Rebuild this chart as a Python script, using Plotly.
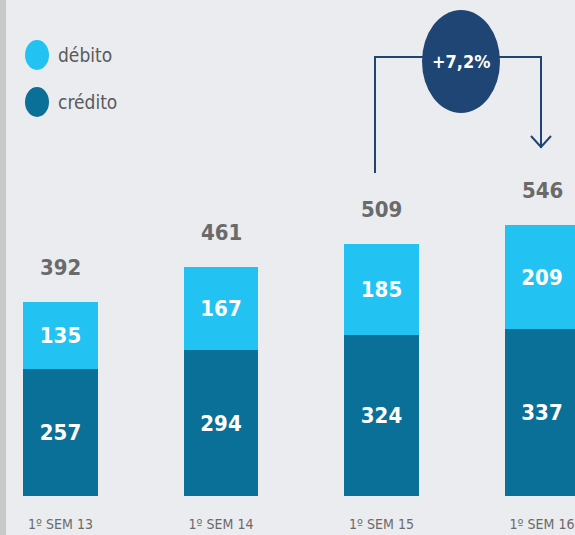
import plotly.graph_objects as go

periodos = ["1º SEM 13", "1º SEM 14", "1º SEM 15", "1º SEM 16"]
credito = [257, 294, 324, 337]
debito = [135, 167, 185, 209]
totais = [c + d for c, d in zip(credito, debito)]
variacao = "+7,2%"

cor_debito = "#22c3f3"
cor_credito = "#0b7098"
cor_seta = "#1e4573"
fundo = "#ebecef"
fonte = "DejaVu Sans Condensed"

W, H = 575, 535
plot_h = 496  # plot area height in px (t=0)


def px(x):
    return x / W


def py(y):
    return 1 - y / plot_h


x = list(range(len(periodos)))

fig = go.Figure()
fig.add_trace(go.Bar(
    x=x, y=credito, name="crédito", marker_color=cor_credito, width=0.467,
    texttemplate="<b>%{y}</b>", textposition="inside", insidetextanchor="middle",
    textfont=dict(family=fonte, size=22, color="white"), marker_line_width=0,
))
fig.add_trace(go.Bar(
    x=x, y=debito, name="débito", marker_color=cor_debito, width=0.467,
    texttemplate="<b>%{y}</b>", textposition="inside", insidetextanchor="middle",
    textfont=dict(family=fonte, size=22, color="white"), marker_line_width=0,
))

for i, t in enumerate(totais):
    fig.add_annotation(x=i, y=t, text=f"<b>{t}</b>", showarrow=False,
                       yanchor="bottom", yshift=20,
                       font=dict(family=fonte, size=22, color="#6a6a6a"))

# legend drawn by hand (round markers)
for nome, cor, yc in [("débito", cor_debito, 55), ("crédito", cor_credito, 102)]:
    fig.add_shape(type="circle", xref="paper", yref="paper",
                  x0=px(25), x1=px(49), y0=py(yc - 15), y1=py(yc + 15),
                  fillcolor=cor, line_width=0)
    fig.add_annotation(x=px(56), y=py(yc), xref="paper", yref="paper",
                       text=nome, showarrow=False, xanchor="left", yanchor="middle",
                       font=dict(family=fonte, size=19, color="#5a5a5a"))

# bracket with growth figure
fig.add_shape(type="path", xref="paper", yref="paper",
              path=f"M {px(375)} {py(173)} L {px(375)} {py(57)} L {px(541)} {py(57)} L {px(541)} {py(148)}",
              line=dict(color=cor_seta, width=2))
fig.add_shape(type="path", xref="paper", yref="paper",
              path=f"M {px(531)} {py(136)} L {px(541)} {py(147)} L {px(551)} {py(136)}",
              line=dict(color=cor_seta, width=2))
fig.add_shape(type="circle", xref="paper", yref="paper",
              x0=px(422), x1=px(500), y0=py(10), y1=py(113),
              fillcolor=cor_seta, line_width=0)
fig.add_annotation(x=px(461), y=py(61), xref="paper", yref="paper",
                   text=f"<b>{variacao}</b>", showarrow=False,
                   xanchor="center", yanchor="middle",
                   font=dict(family=fonte, size=18, color="white"))

# grey strip on the left edge
fig.add_shape(type="rect", xref="paper", yref="paper",
              x0=0, x1=px(6), y0=-(H - plot_h) / plot_h, y1=1,
              fillcolor="#c9c9c9", line_width=0, layer="below")

fig.update_layout(
    width=W, height=H, barmode="stack", showlegend=False,
    margin=dict(l=0, r=0, t=0, b=H - plot_h),
    paper_bgcolor=fundo, plot_bgcolor=fundo,
    xaxis=dict(range=[-60.5 / 160.5, (575 - 60.5) / 160.5], tickvals=x, ticktext=periodos,
               showgrid=False, zeroline=False, showline=False, ticks="",
               ticklabelstandoff=18,
               tickfont=dict(family=fonte, size=14, color="#6a6a6a")),
    yaxis=dict(range=[0, 1000], visible=False),
)

fig.write_html("out.html", config={"displayModeBar": False},
               post_script="document.body.style.margin='0';")
